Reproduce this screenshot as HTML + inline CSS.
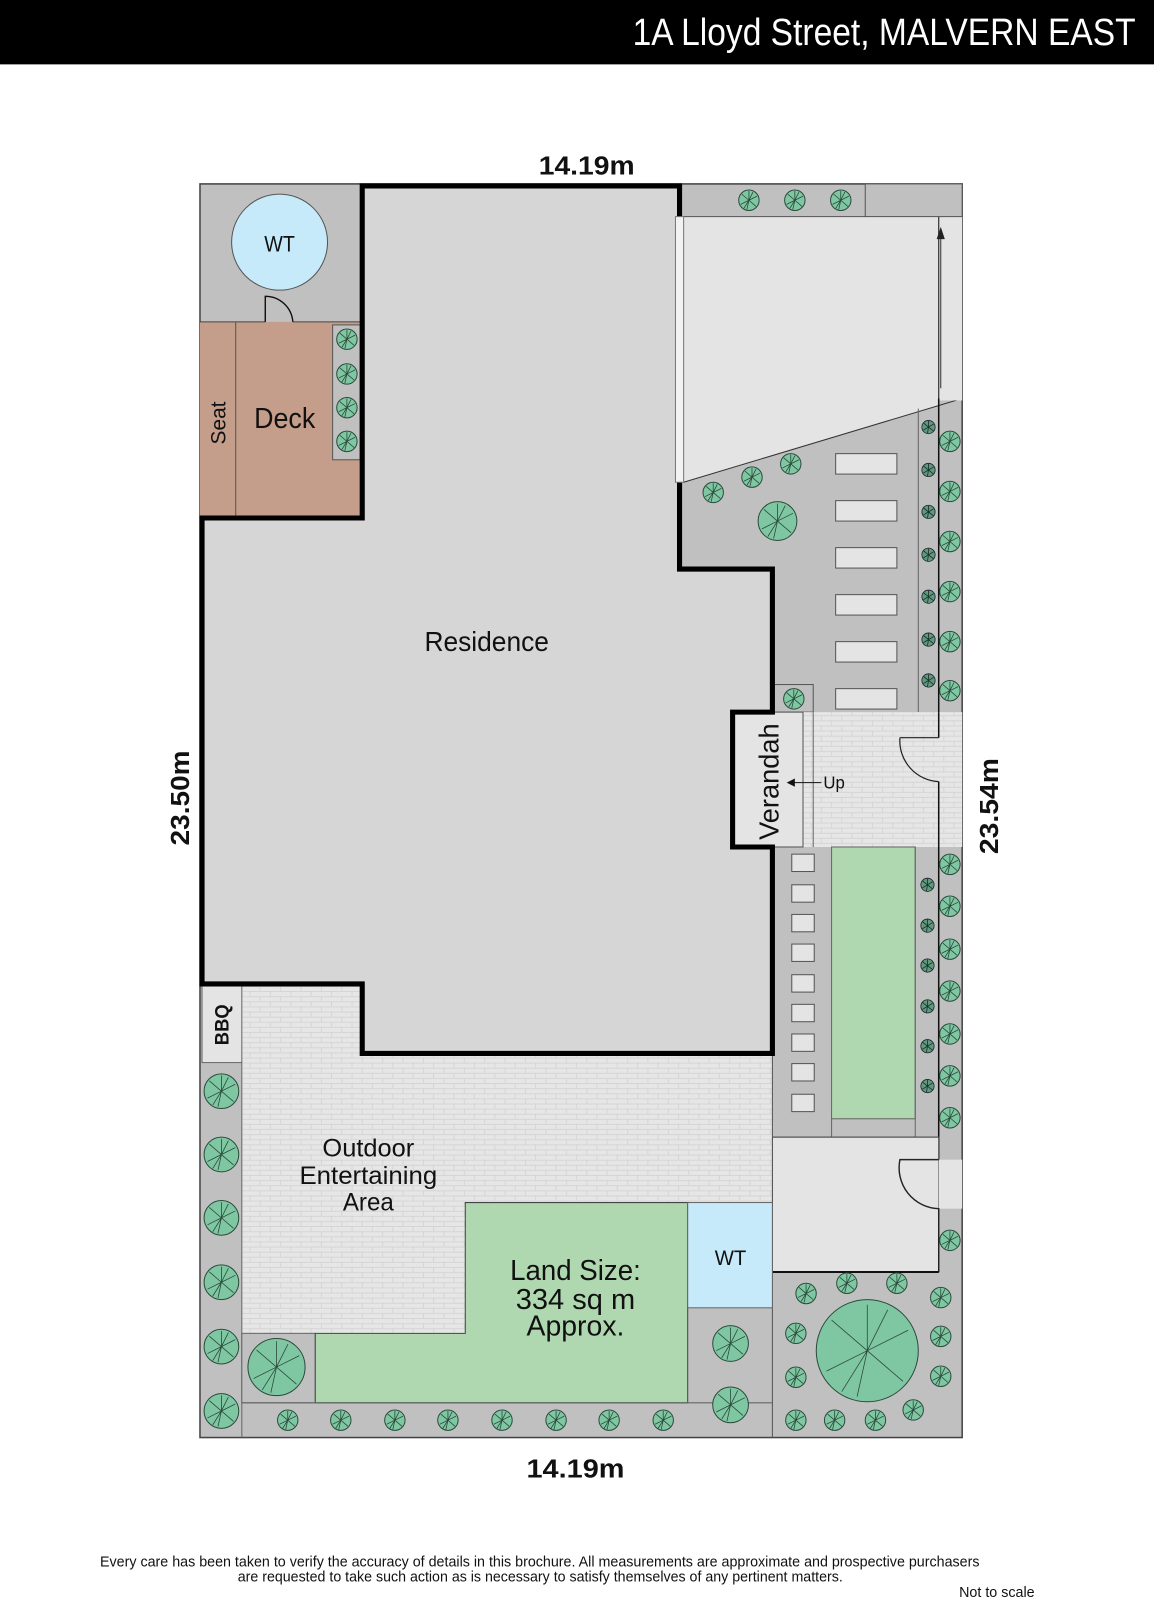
<!DOCTYPE html>
<html><head><meta charset="utf-8"><style>
html,body{margin:0;padding:0;background:#fff;}
svg{display:block;}
text{font-family:"Liberation Sans",sans-serif;}
.ns *{vector-effect:non-scaling-stroke;}
</style></head><body>
<svg width="1154" height="1600" viewBox="0 0 1131 1566" preserveAspectRatio="none" xmlns="http://www.w3.org/2000/svg">
<defs>
<pattern id="brick" width="20" height="10" patternUnits="userSpaceOnUse">
<rect width="20" height="10" fill="#e6e6e6"/>
<path d="M0 0.5H20M0 5.5H20M5 0V5M15 5V10" stroke="#d2d2d2" stroke-width="0.8" fill="none"/>
</pattern>
<g id="tree" class="ns">
<circle r="10" fill="#7fc7a2" stroke="#2a4a3a" stroke-width="1"/>
<path d="M0 0L0 -9M0 0L8 -4M0 0L7 6M0 0L-2 9M0 0L-8 4M0 0L-7 -6M0 0L4 -8M0 0L-5 8" stroke="#2a4a3a" stroke-width="0.8"/>
</g>
<g id="treeS">
<circle r="6.5" fill="#5e9a7e" stroke="#223" stroke-width="0.8"/>
<path d="M0 0L0 -6M0 0L5 -3M0 0L5 4M0 0L-1 6M0 0L-5 3M0 0L-5 -4" stroke="#1d2d25" stroke-width="0.8"/>
</g>
</defs>
<rect x="0" y="0" width="1131" height="63" fill="#000"/>
<text x="620" y="44" font-size="37" fill="#fff" textLength="493" lengthAdjust="spacingAndGlyphs">1A Lloyd Street, MALVERN EAST</text>

<rect x="196" y="180" width="747" height="1227" fill="#c0c0c1" stroke="#444" stroke-width="1.5"/>

<polygon points="670,212 920,212 920,397 670,472" fill="#e4e4e4"/>
<line x1="670" y1="472" x2="943" y2="390" stroke="#333" stroke-width="1"/>
<rect x="920" y="212" width="23" height="180" fill="#e4e4e4"/>
<line x1="920" y1="212" x2="920" y2="390" stroke="#333" stroke-width="1.2"/>
<line x1="922" y1="380" x2="922" y2="228" stroke="#333" stroke-width="1"/>
<polygon points="922,222 918,234 926,234" fill="#222"/>
<rect x="848" y="180" width="95" height="32" fill="#c0c0c1" stroke="#555" stroke-width="1"/>
<line x1="670" y1="212" x2="848" y2="212" stroke="#555" stroke-width="1"/>
<line x1="900" y1="400" x2="900" y2="697" stroke="#666" stroke-width="1"/>
<line x1="920" y1="390" x2="920" y2="697" stroke="#111" stroke-width="1.5"/>
<g fill="#e4e4e4" stroke="#555" stroke-width="1">
<rect x="819" y="444" width="60" height="20"/><rect x="819" y="490" width="60" height="20"/>
<rect x="819" y="536" width="60" height="20"/><rect x="819" y="582" width="60" height="20"/>
<rect x="819" y="628" width="60" height="20"/><rect x="819" y="674" width="60" height="20"/>
</g>
<rect x="757" y="670" width="40" height="27" fill="#c0c0c1" stroke="#555" stroke-width="1"/>

<rect x="757" y="697" width="186" height="132" fill="url(#brick)"/>
<line x1="920" y1="697" x2="920" y2="722" stroke="#111" stroke-width="1.5"/>
<line x1="920" y1="765" x2="920" y2="829" stroke="#111" stroke-width="1.5"/>
<path d="M882 722 H920 M882 722 A40 40 0 0 0 920 765" fill="none" stroke="#222" stroke-width="1.2"/>
<rect x="718" y="697" width="69" height="132" fill="#e4e4e4" stroke="#555" stroke-width="1"/>
<line x1="797" y1="697" x2="797" y2="829" stroke="#666" stroke-width="1"/>
<line x1="805" y1="766" x2="775" y2="766" stroke="#111" stroke-width="1"/>
<polygon points="771,766 779,762 779,770" fill="#111"/>
<text x="807" y="772" font-size="17" fill="#111" textLength="21" lengthAdjust="spacingAndGlyphs">Up</text>
<text transform="translate(763,765) rotate(-90)" font-size="27" text-anchor="middle" fill="#111" textLength="114" lengthAdjust="spacingAndGlyphs">Verandah</text>

<rect x="815" y="829" width="82" height="266" fill="#b0d8b0" stroke="#666" stroke-width="1"/>
<line x1="815" y1="1095" x2="815" y2="1113" stroke="#666"/>
<line x1="897" y1="829" x2="897" y2="1113" stroke="#666"/>
<line x1="920" y1="829" x2="920" y2="1135" stroke="#111" stroke-width="1.5"/>
<line x1="757" y1="1113" x2="920" y2="1113" stroke="#666"/>
<g fill="#e4e4e4" stroke="#555" stroke-width="1">
<rect x="776" y="836" width="22" height="17"/><rect x="776" y="866" width="22" height="17"/>
<rect x="776" y="895" width="22" height="17"/><rect x="776" y="924" width="22" height="17"/>
<rect x="776" y="954" width="22" height="17"/><rect x="776" y="983" width="22" height="17"/>
<rect x="776" y="1012" width="22" height="17"/><rect x="776" y="1041" width="22" height="17"/>
<rect x="776" y="1071" width="22" height="17"/>
</g>
<rect x="757" y="1113" width="163" height="132" fill="#e4e4e4" stroke="#444" stroke-width="1"/>
<rect x="920" y="1135" width="23" height="48" fill="#e4e4e4"/>
<path d="M920 1135 H882 A40 40 0 0 0 920 1183 V1245" fill="none" stroke="#222" stroke-width="1.4"/>
<line x1="757" y1="1245" x2="920" y2="1245" stroke="#111" stroke-width="2"/>

<rect x="237" y="963" width="520" height="342" fill="url(#brick)"/>
<rect x="674" y="1280" width="83" height="93" fill="#c0c0c1"/>
<line x1="757" y1="1031" x2="757" y2="1407" stroke="#555" stroke-width="1"/>
<rect x="198" y="963" width="39" height="77" fill="#e4e4e4" stroke="#666" stroke-width="1"/>
<text transform="translate(224,1003) rotate(-90)" font-size="19" font-weight="bold" text-anchor="middle" fill="#111" textLength="40" lengthAdjust="spacingAndGlyphs">BBQ</text>
<line x1="237" y1="1040" x2="237" y2="1407" stroke="#666"/>
<rect x="237" y="1305" width="72" height="68" fill="#c0c0c1" stroke="#666" stroke-width="1"/>
<polygon points="456,1177 674,1177 674,1373 309,1373 309,1305 456,1305" fill="#b0d8b0" stroke="#444" stroke-width="1"/>
<rect x="674" y="1177" width="83" height="103" fill="#c6eafa" stroke="#666" stroke-width="1"/>
<text x="716" y="1238" font-size="21" text-anchor="middle" fill="#111" textLength="31" lengthAdjust="spacingAndGlyphs">WT</text>
<line x1="237" y1="1373" x2="757" y2="1373" stroke="#666"/>
<text x="361" y="1132" font-size="24" text-anchor="middle" fill="#111" textLength="90" lengthAdjust="spacingAndGlyphs">Outdoor</text>
<text x="361" y="1159" font-size="24" text-anchor="middle" fill="#111" textLength="135" lengthAdjust="spacingAndGlyphs">Entertaining</text>
<text x="361" y="1185" font-size="24" text-anchor="middle" fill="#111" textLength="50" lengthAdjust="spacingAndGlyphs">Area</text>
<text x="564" y="1253" font-size="28" text-anchor="middle" fill="#111" textLength="128" lengthAdjust="spacingAndGlyphs">Land Size:</text>
<text x="564" y="1281" font-size="28" text-anchor="middle" fill="#111" textLength="117" lengthAdjust="spacingAndGlyphs">334 sq m</text>
<text x="564" y="1307" font-size="28" text-anchor="middle" fill="#111" textLength="96" lengthAdjust="spacingAndGlyphs">Approx.</text>

<circle cx="274" cy="237" r="47" fill="#c6eafa" stroke="#555" stroke-width="1"/>
<text x="274" y="246" font-size="22" text-anchor="middle" fill="#111" textLength="30" lengthAdjust="spacingAndGlyphs">WT</text>
<rect x="196" y="315" width="161" height="192" fill="#c49e8a"/>
<line x1="196" y1="315" x2="260" y2="315" stroke="#444"/>
<line x1="287" y1="315" x2="355" y2="315" stroke="#444"/>
<path d="M260 315 V290 A27 27 0 0 1 287 315" fill="none" stroke="#111" stroke-width="1.4"/>
<line x1="231" y1="315" x2="231" y2="507" stroke="#555"/>
<rect x="326" y="318" width="27" height="132" fill="#c0c0c1" stroke="#555"/>
<text x="279" y="419" font-size="28" text-anchor="middle" fill="#111" textLength="60" lengthAdjust="spacingAndGlyphs">Deck</text>
<text transform="translate(221,414) rotate(-90)" font-size="21" text-anchor="middle" fill="#111" textLength="42" lengthAdjust="spacingAndGlyphs">Seat</text>

<polygon points="357,182 666,182 666,557 757,557 757,697 718,697 718,829 757,829 757,1031 355,1031 355,963 198,963 198,507 355,507 355,182" fill="#d6d6d6" stroke="#000" stroke-width="5" stroke-linejoin="miter"/>
<rect x="662" y="212" width="8" height="260" fill="#f2f2f2" stroke="#777" stroke-width="1"/>
<text x="477" y="637" font-size="27" text-anchor="middle" fill="#111" textLength="122" lengthAdjust="spacingAndGlyphs">Residence</text>

<g>
<use href="#tree" x="734" y="196"/><use href="#tree" x="779" y="196"/><use href="#tree" x="824" y="196"/>
<use href="#tree" x="340" y="332"/>
<use href="#tree" x="340" y="366"/><use href="#tree" x="340" y="399"/><use href="#tree" x="340" y="432"/>
<use href="#tree" x="699" y="482"/><use href="#tree" x="737" y="467"/><use href="#tree" x="775" y="454"/>
<use href="#tree" x="931" y="432"/><use href="#tree" x="931" y="481"/><use href="#tree" x="931" y="530"/>
<use href="#tree" x="931" y="579"/><use href="#tree" x="931" y="628"/><use href="#tree" x="931" y="676"/>
<use href="#tree" x="778" y="684"/>
<use href="#treeS" x="910" y="418"/><use href="#treeS" x="910" y="460"/><use href="#treeS" x="910" y="501"/>
<use href="#treeS" x="910" y="543"/><use href="#treeS" x="910" y="584"/><use href="#treeS" x="910" y="626"/><use href="#treeS" x="910" y="666"/>
<use href="#tree" x="931" y="846"/><use href="#tree" x="931" y="887"/><use href="#tree" x="931" y="929"/>
<use href="#tree" x="931" y="970"/><use href="#tree" x="931" y="1012"/><use href="#tree" x="931" y="1053"/><use href="#tree" x="931" y="1094"/>
<use href="#treeS" x="909" y="866"/><use href="#treeS" x="909" y="906"/><use href="#treeS" x="909" y="945"/>
<use href="#treeS" x="909" y="985"/><use href="#treeS" x="909" y="1024"/><use href="#treeS" x="909" y="1063"/>
<use href="#tree" x="931" y="1214"/>
<use href="#tree" x="282" y="1390"/><use href="#tree" x="334" y="1390"/><use href="#tree" x="387" y="1390"/>
<use href="#tree" x="439" y="1390"/><use href="#tree" x="492" y="1390"/><use href="#tree" x="545" y="1390"/>
<use href="#tree" x="597" y="1390"/><use href="#tree" x="650" y="1390"/>
<use href="#tree" x="780" y="1390"/><use href="#tree" x="818" y="1390"/><use href="#tree" x="858" y="1390"/><use href="#tree" x="895" y="1380"/>
<use href="#tree" x="830" y="1256"/><use href="#tree" x="879" y="1256"/><use href="#tree" x="790" y="1266"/><use href="#tree" x="922" y="1270"/>
<use href="#tree" x="780" y="1305"/><use href="#tree" x="780" y="1348"/><use href="#tree" x="922" y="1308"/><use href="#tree" x="922" y="1347"/>
</g>
<g transform="translate(217,1068) scale(1.7)"><use href="#tree"/></g>
<g transform="translate(217,1130) scale(1.7)"><use href="#tree"/></g>
<g transform="translate(217,1192) scale(1.7)"><use href="#tree"/></g>
<g transform="translate(217,1255) scale(1.7)"><use href="#tree"/></g>
<g transform="translate(217,1318) scale(1.7)"><use href="#tree"/></g>
<g transform="translate(217,1381) scale(1.7)"><use href="#tree"/></g>
<g transform="translate(271,1338) scale(2.8)"><use href="#tree"/></g>
<g transform="translate(716,1315) scale(1.75)"><use href="#tree"/></g>
<g transform="translate(716,1375) scale(1.75)"><use href="#tree"/></g>
<g transform="translate(762,510) scale(1.9)"><use href="#tree"/></g>
<g transform="translate(850,1322) scale(5)"><use href="#tree"/></g>

<text x="575" y="171" font-size="25" font-weight="bold" text-anchor="middle" fill="#111" textLength="94" lengthAdjust="spacingAndGlyphs">14.19m</text>
<text x="564" y="1446" font-size="25" font-weight="bold" text-anchor="middle" fill="#111" textLength="96" lengthAdjust="spacingAndGlyphs">14.19m</text>
<text transform="translate(185,781) rotate(-90)" font-size="25" font-weight="bold" text-anchor="middle" fill="#111" textLength="93" lengthAdjust="spacingAndGlyphs">23.50m</text>
<text transform="translate(978,789) rotate(-90)" font-size="25" font-weight="bold" text-anchor="middle" fill="#111" textLength="94" lengthAdjust="spacingAndGlyphs">23.54m</text>

<text x="98" y="1533" font-size="14" fill="#111" textLength="862" lengthAdjust="spacingAndGlyphs">Every care has been taken to verify the accuracy of details in this brochure.  All measurements are approximate and prospective purchasers</text>
<text x="233" y="1548" font-size="14" fill="#111" textLength="593" lengthAdjust="spacingAndGlyphs">are requested to take such action as is necessary to satisfy themselves of any pertinent matters.</text>
<text x="940" y="1563" font-size="14" fill="#111" textLength="74" lengthAdjust="spacingAndGlyphs">Not to scale</text>
</svg>
</body></html>
